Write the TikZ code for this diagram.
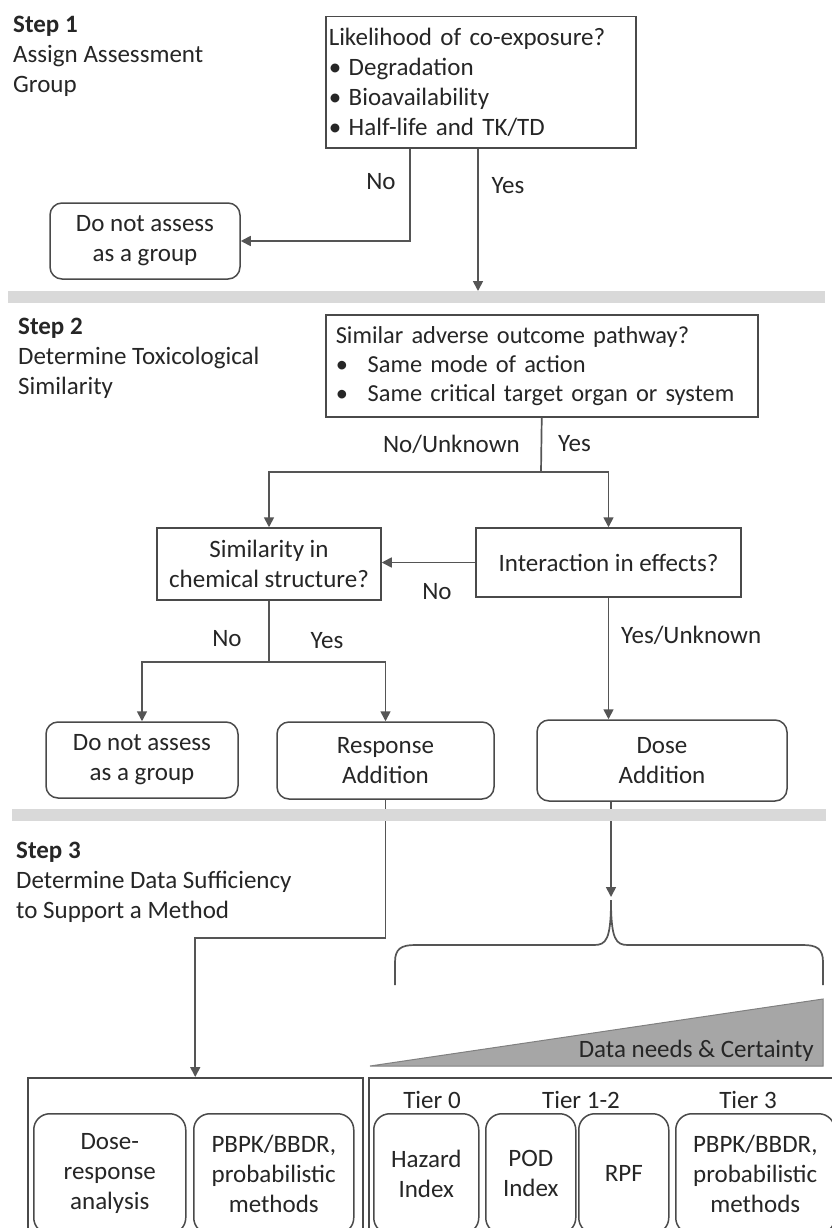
\documentclass[tikz,border=0pt]{standalone}
\usepackage{fontspec}
\setmainfont{Carlito}
\usetikzlibrary{arrows.meta,calc}
\definecolor{lc}{HTML}{555555}
\definecolor{bc}{HTML}{4A4A4A}
\definecolor{tc}{HTML}{262626}
\definecolor{barc}{HTML}{D9D9D9}
\definecolor{trif}{HTML}{A6A6A6}
\begin{document}
\begin{tikzpicture}[x=1pt,y=-1pt,font=\fontsize{25}{30}\selectfont,text=tc,
  line/.style={draw=lc,line width=1.7pt},
  arr/.style={line,-{Triangle[width=10pt,length=10pt]}},
  sqbox/.style={draw=bc,line width=1.5pt,rectangle,inner sep=0pt,align=center},
  rbox/.style={sqbox,rounded corners=12pt},
  tbox/.style={sqbox,rounded corners=16pt,anchor=north west,minimum height=120pt},
  lab/.style={inner sep=0pt},
  steplab/.style={inner sep=0pt,anchor=west,align=left},
  bar/.style={fill=barc,draw=none,inner sep=0pt,anchor=north west,minimum height=12pt}]
\clip (0,0) rectangle (832,1228);
\fill[white] (0,0) rectangle (832,1228);

% step labels
\node[steplab] (st1) at (13,56) {\textbf{Step 1}\\Assign Assessment\\Group};
\node[steplab] (st2) at (18,358) {\textbf{Step 2}\\Determine Toxicological\\Similarity};
\node[steplab] (st3) at (16,882) {\textbf{Step 3}\\Determine Data Sufficiency\\to Support a Method};

% bars
\node[bar,minimum width=817pt] (bar1) at (8,291) {};

% step 1
\node[sqbox,anchor=north west,minimum width=310pt,minimum height=131pt,text width=304pt,align=left,inner xsep=3pt] (b1) at (325,16)
 {Likelihood of co-exposure?\\\makebox[20pt][l]{•}Degradation\\\makebox[20pt][l]{•}Bioavailability\\\makebox[20pt][l]{•}Half-life and TK/TD};
\node[rbox,minimum width=190pt,minimum height=76pt] (dn1) at (145,241) {Do not assess\\as a group};
\coordinate (k0) at (410,0);
\coordinate (k1) at (478,0);
\draw[arr] (b1.south -| k0) |- (dn1.east);
\draw[arr] (b1.south -| k1) -- (k1 |- bar1.north);
\node[lab] (l1) at (381,182) {No};
\node[lab] (l2) at (508,186) {Yes};

% step 2
\node[sqbox,anchor=north west,minimum width=432pt,minimum height=102pt,text width=412pt,align=left,inner xsep=10pt,font=\fontsize{24.4}{29}\selectfont] (b2) at (325,314)
 {Similar adverse outcome pathway?\\\makebox[32pt][l]{•}Same mode of action\\\makebox[32pt][l]{•}Same critical target organ or system};
\node[sqbox,minimum width=224pt,minimum height=72pt] (sim) at (269,564) {Similarity in\\chemical structure?};
\node[sqbox,minimum width=265pt,minimum height=69pt] (inter) at (608.5,562.5) {Interaction in effects?};
\node[rbox,minimum width=192pt,minimum height=76pt] (dn2) at (142,760) {Do not assess\\as a group};
\node[rbox,minimum width=217pt,minimum height=77pt] (resp) at (385.5,760.5) {Response\\Addition};
\node[rbox,minimum width=250pt,minimum height=81pt] (dose) at (662,760.5) {Dose\\Addition};

\coordinate (j2) at (541,472);
\draw[line] (b2.south) -- (j2);
\draw[arr] (j2) -| (sim.north);
\draw[arr] (j2) -| (inter.north);
\node[lab,anchor=east] (l3) at (520,444) {No/Unknown};
\node[lab,anchor=west] (l4) at (558,444) {Yes};

\draw[arr] (inter.west) -- (inter.west -| sim.east);
\node[lab] (l5) at (437,592) {No};

\coordinate (j3) at (269,662);
\draw[line] (sim.south) -- (j3);
\draw[arr] (j3) -| (dn2.north);
\draw[arr] (j3) -| (resp.north);
\node[lab] (l6) at (227,639) {No};
\node[lab] (l7) at (327,641) {Yes};

\draw[arr] (inter.south) -- (inter.south |- dose.north);
\node[lab,anchor=west] (l8) at (621,635) {Yes/Unknown};

% step 3
\node[sqbox,anchor=north west,minimum width=335pt,minimum height=180pt] (bigL) at (27,1077) {};
\node[sqbox,anchor=north west,minimum width=480pt,minimum height=180pt] (bigR) at (368,1077) {};

\coordinate (k3) at (0,938);
\draw[arr] (resp.south) -- (resp.south |- k3) -| (bigL.north);
\coordinate (k4) at (611,897);
\draw[arr] (dose.south -| k4) -- (k4);

\node[bar,minimum width=814pt] (bar2) at (12,809) {};

% brace
\draw[line] (395,985) -- (395,962) .. controls (395,949) and (401,945) .. (415,945) -- (594,945)
  .. controls (606,945) and (611,940) .. (611,900)
  .. controls (611,940) and (616,945) .. (628,945) -- (803,945)
  .. controls (817,945) and (823,949) .. (823,962) -- (823,985);

% triangle
\filldraw[fill=trif,draw=gray,line width=1pt] (370,1066) -- (823,999) -- (823,1066) -- cycle;
\node[lab,anchor=east] (dneed) at (814,1051) {Data needs \& Certainty};

% tiers
\node[lab] (t0) at (432,1100) {Tier 0};
\node[lab] (t12) at (581,1100) {Tier 1-2};
\node[lab] (t3) at (748,1100) {Tier 3};

\node[tbox,minimum width=152pt] (dr) at (33,1113) {Dose-\\response\\analysis};
\node[tbox,minimum width=160pt] (pbL) at (193,1113) {PBPK/BBDR,\\probabilistic\\methods};
\node[tbox,minimum width=105pt] (haz) at (373,1113) {Hazard\\Index};
\node[tbox,minimum width=90pt] (pod) at (485,1113) {POD\\Index};
\node[tbox,minimum width=90pt] (rpf) at (578,1113) {RPF};
\node[tbox,minimum width=159pt] (pbR) at (675,1113) {PBPK/BBDR,\\probabilistic\\methods};
\end{tikzpicture}
\end{document}
